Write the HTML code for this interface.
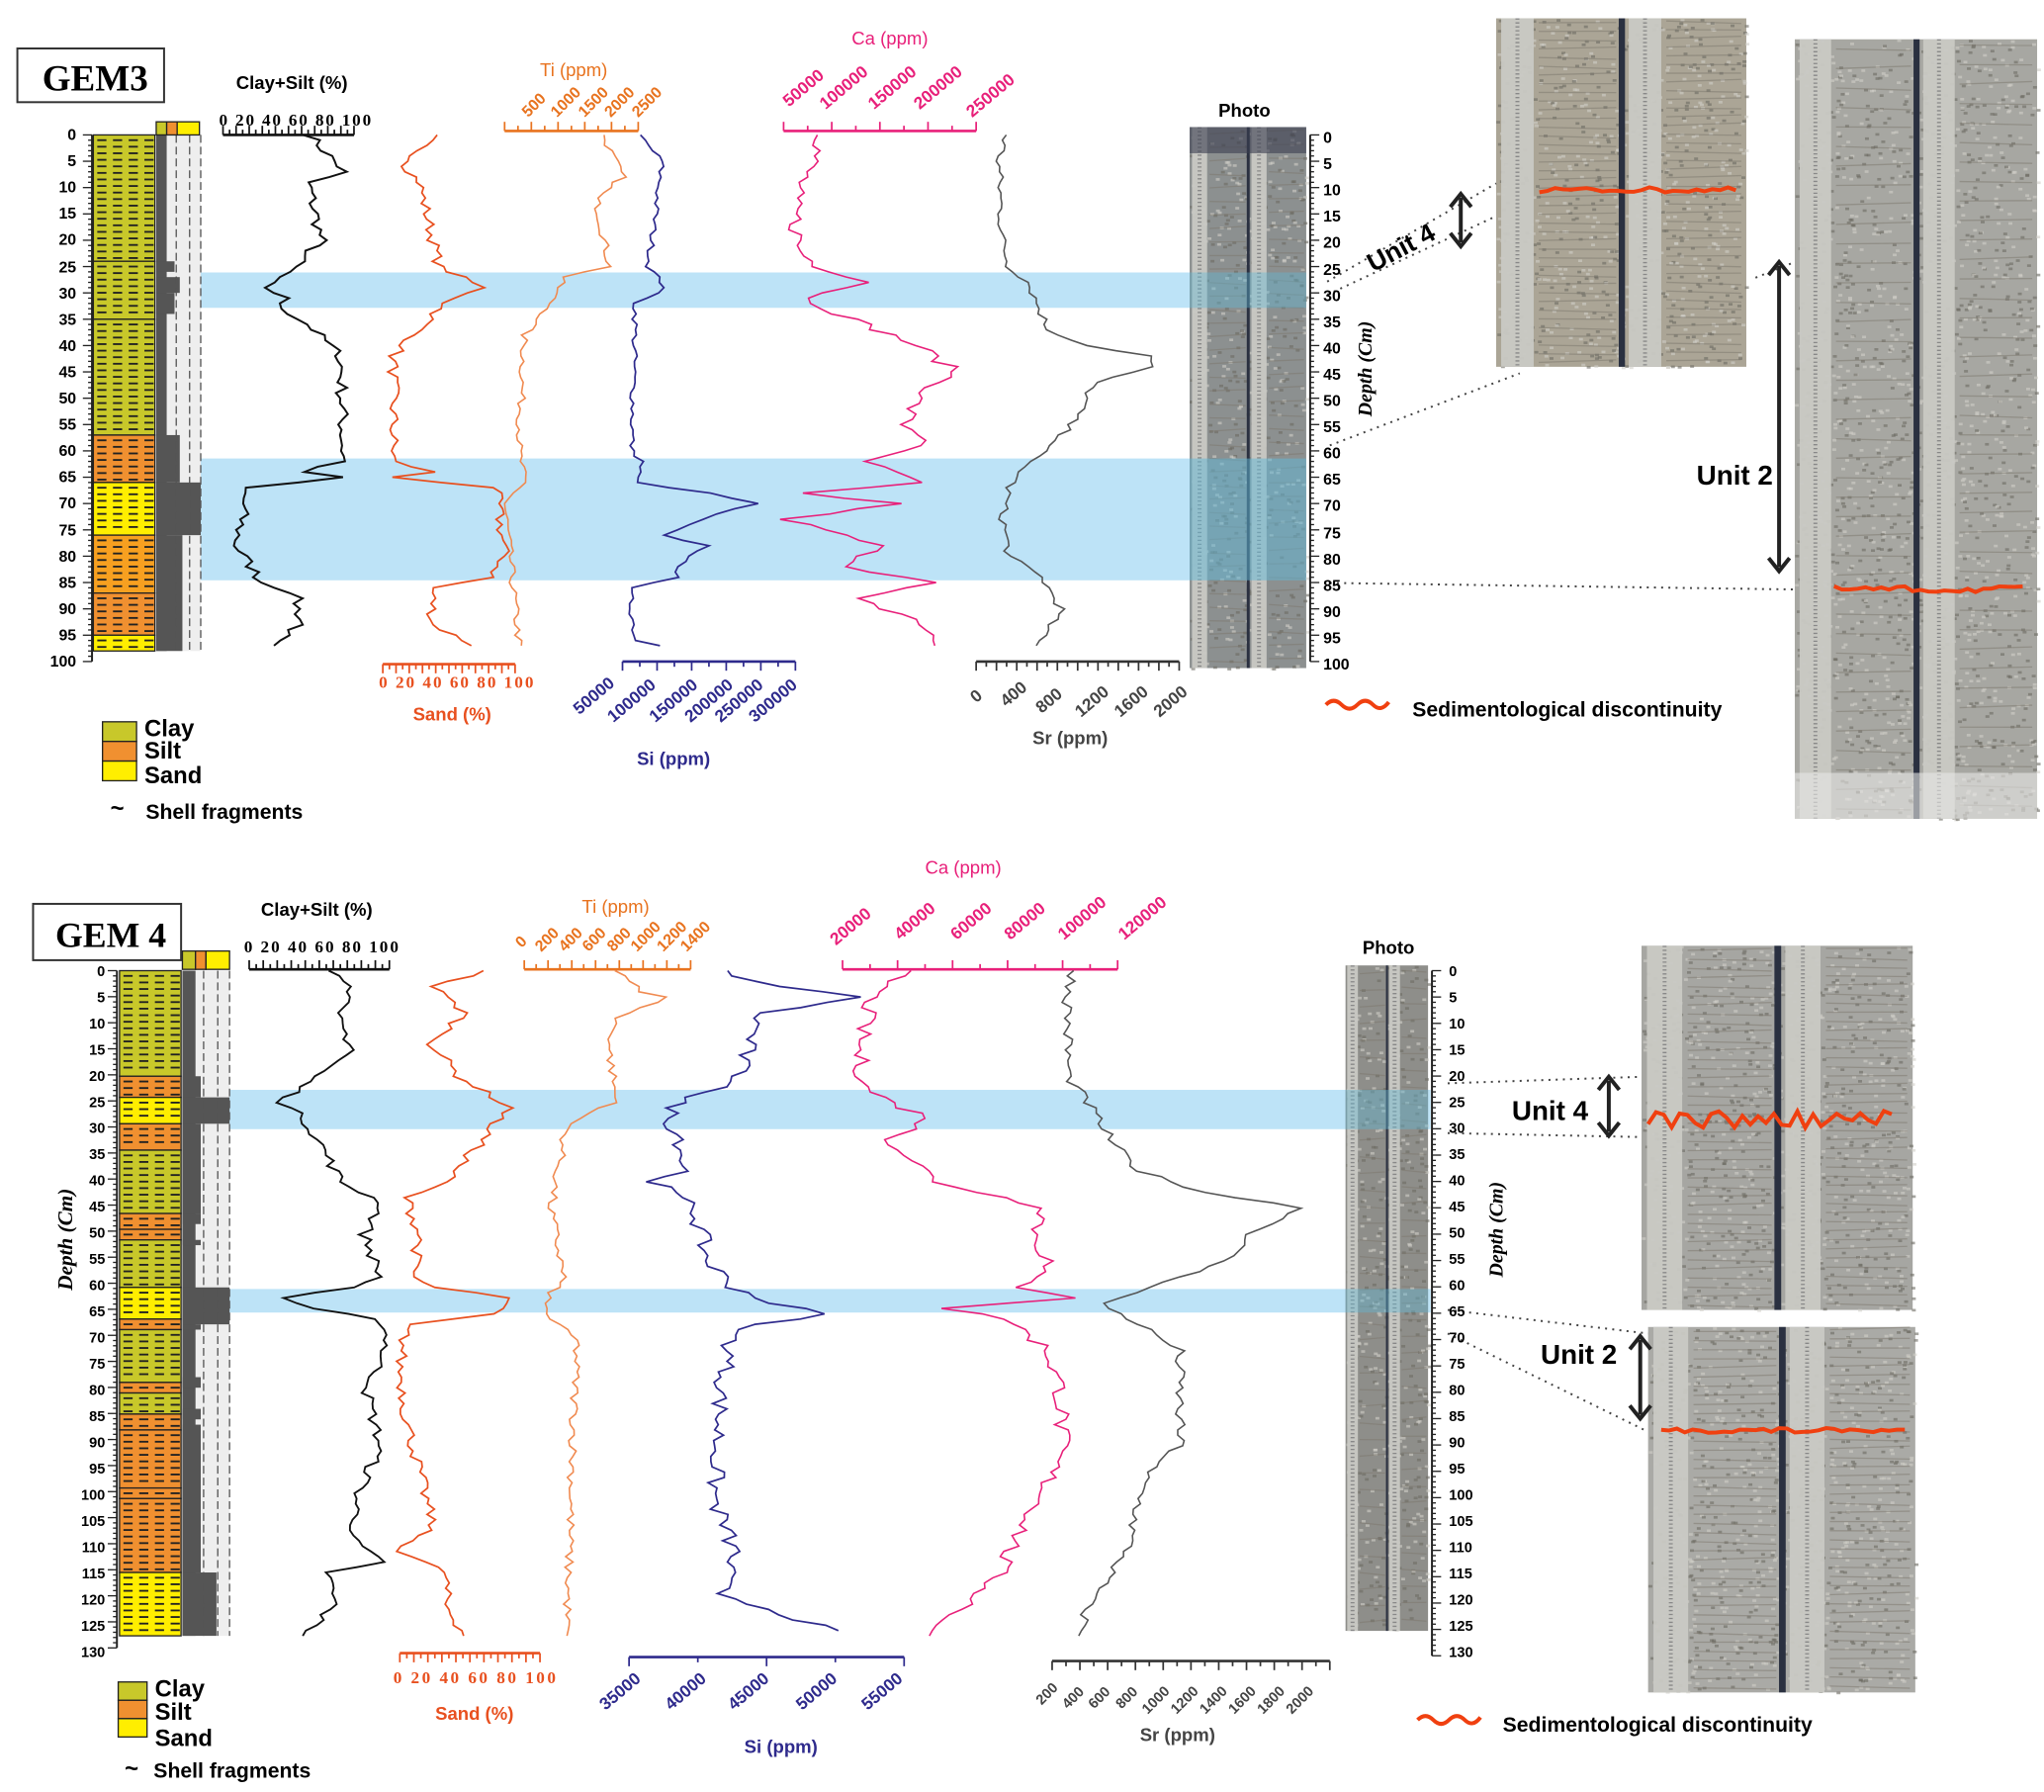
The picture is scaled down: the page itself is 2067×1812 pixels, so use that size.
<!DOCTYPE html>
<html><head><meta charset="utf-8"><style>
html,body{margin:0;padding:0;background:#fff}
svg{display:block}
text{font-family:"Liberation Sans",Arial,sans-serif}
.ser{font-family:"Liberation Serif",serif;font-weight:bold}
.b{font-weight:bold}
</style></head><body>
<svg id="s" xmlns="http://www.w3.org/2000/svg" width="2067" height="1812" viewBox="0 0 1560 1368">
<rect width="1560" height="1368" fill="#fff"/>
<rect x="152" y="208" width="843" height="27" fill="#bde3f7"/>
<rect x="152" y="350" width="843" height="93" fill="#bde3f7"/>
<rect x="174" y="832" width="918" height="30" fill="#bde3f7"/>
<rect x="174" y="984" width="918" height="18" fill="#bde3f7"/>
<g id="g"></g>

<rect x="13" y="37" width="112" height="41" fill="#fff" stroke="#333" stroke-width="1.5"/>
<text x="32" y="69" class="ser" font-size="28">GEM3</text>
<text x="180" y="68" class="b" font-size="14">Clay+Silt (%)</text>
<text x="167" y="96" class="ser" font-size="13" textLength="116" lengthAdjust="spacing">0 20 40 60 80 100</text>
<text x="412" y="58" font-size="14" fill="#e8731f">Ti (ppm)</text>
<text x="650" y="34" font-size="14" fill="#e8207a">Ca (ppm)</text>
<text x="930" y="89" class="b" font-size="14">Photo</text>
<text x="289" y="525" class="ser" font-size="13" fill="#e8501f" textLength="118" lengthAdjust="spacing">0 20 40 60 80 100</text>
<text x="315" y="550" class="b" font-size="14" fill="#e8501f">Sand (%)</text>
<text x="486" y="584" class="b" font-size="14" fill="#2e2a8c">Si (ppm)</text>
<text x="788" y="568" class="b" font-size="14" fill="#444">Sr (ppm)</text>
<text transform="translate(1047,318) rotate(-90)" class="ser" font-style="italic" font-size="15">Depth (Cm)</text>
<text x="1078" y="547" class="b" font-size="16">Sedimentological discontinuity</text>
<path d="M1012 538 q6 -6 12 0 t12 0 t12 0 t12 -2" stroke="#f04010" stroke-width="3" fill="none"/>
<text transform="translate(1048,208) rotate(-28)" class="b" font-size="20">Unit 4</text>
<text x="1295" y="370" class="b" font-size="21">Unit 2</text>

<rect x="78" y="551" width="26" height="15" fill="#c8c82a" stroke="#222"/>
<rect x="78" y="566" width="26" height="15" fill="#f09030" stroke="#222"/>
<rect x="78" y="581" width="26" height="15" fill="#ffee00" stroke="#222"/>
<text x="110" y="562" class="b" font-size="18">Clay</text>
<text x="110" y="579" class="b" font-size="18">Silt</text>
<text x="110" y="598" class="b" font-size="18">Sand</text>
<text x="84" y="623" class="b" font-size="18">~</text>
<text x="111" y="625" class="b" font-size="16">Shell fragments</text>

<rect x="25" y="690" width="113" height="43" fill="#fff" stroke="#333" stroke-width="1.5"/>
<text x="42" y="723" class="ser" font-size="27">GEM 4</text>
<text x="199" y="699" class="b" font-size="14">Clay+Silt (%)</text>
<text x="186" y="727" class="ser" font-size="13" textLength="118" lengthAdjust="spacing">0 20 40 60 80 100</text>
<text x="444" y="697" font-size="14" fill="#e8731f">Ti (ppm)</text>
<text x="706" y="667" font-size="14" fill="#e8207a">Ca (ppm)</text>
<text x="1040" y="728" class="b" font-size="14">Photo</text>
<text x="300" y="1285" class="ser" font-size="13" fill="#e8501f" textLength="124" lengthAdjust="spacing">0 20 40 60 80 100</text>
<text x="332" y="1313" class="b" font-size="14" fill="#e8501f">Sand (%)</text>
<text x="568" y="1338" class="b" font-size="14" fill="#2e2a8c">Si (ppm)</text>
<text x="870" y="1329" class="b" font-size="14" fill="#444">Sr (ppm)</text>
<text transform="translate(55,985) rotate(-90)" class="ser" font-style="italic" font-size="16">Depth (Cm)</text>
<text transform="translate(1147,975) rotate(-90)" class="ser" font-style="italic" font-size="15">Depth (Cm)</text>
<text x="1147" y="1322" class="b" font-size="16">Sedimentological discontinuity</text>
<path d="M1082 1313 q6 -6 12 0 t12 0 t12 0 t12 -2" stroke="#f04010" stroke-width="3" fill="none"/>
<text x="1154" y="855" class="b" font-size="21">Unit 4</text>
<text x="1176" y="1041" class="b" font-size="21">Unit 2</text>
<rect x="90" y="1284" width="22" height="14" fill="#c8c82a" stroke="#222"/>
<rect x="90" y="1298" width="22" height="14" fill="#f09030" stroke="#222"/>
<rect x="90" y="1312" width="22" height="14" fill="#ffee00" stroke="#222"/>
<text x="118" y="1295" class="b" font-size="18">Clay</text>
<text x="118" y="1313" class="b" font-size="18">Silt</text>
<text x="118" y="1333" class="b" font-size="18">Sand</text>
<text x="95" y="1356" class="b" font-size="18">~</text>
<text x="117" y="1357" class="b" font-size="16">Shell fragments</text>

<g font-size="12" fill="#e8731f" font-weight="bold">
<text transform="translate(403,90) rotate(-45)">500</text>
<text transform="translate(425,90) rotate(-45)">1000</text>
<text transform="translate(446,90) rotate(-45)">1500</text>
<text transform="translate(466,90) rotate(-45)">2000</text>
<text transform="translate(487,90) rotate(-45)">2500</text>
<text transform="translate(398,724) rotate(-45)">0</text>
<text transform="translate(413,727) rotate(-45)">200</text>
<text transform="translate(431,727) rotate(-45)">400</text>
<text transform="translate(449,727) rotate(-45)">600</text>
<text transform="translate(468,727) rotate(-45)">800</text>
<text transform="translate(486,727) rotate(-45)">1000</text>
<text transform="translate(506,727) rotate(-45)">1200</text>
<text transform="translate(524,727) rotate(-45)">1400</text>
</g>
<g font-size="13" fill="#e8207a" font-weight="bold">
<text transform="translate(602,82) rotate(-40)">50000</text>
<text transform="translate(630,84) rotate(-40)">100000</text>
<text transform="translate(667,84) rotate(-40)">150000</text>
<text transform="translate(702,84) rotate(-40)">200000</text>
<text transform="translate(742,90) rotate(-40)">250000</text>
<text transform="translate(638,722) rotate(-40)">20000</text>
<text transform="translate(687,718) rotate(-40)">40000</text>
<text transform="translate(730,718) rotate(-40)">60000</text>
<text transform="translate(771,718) rotate(-40)">80000</text>
<text transform="translate(812,718) rotate(-40)">100000</text>
<text transform="translate(858,718) rotate(-40)">120000</text>
</g>
<g font-size="13" fill="#2e2a8c" font-weight="bold">
<text transform="translate(442,546) rotate(-40)">50000</text>
<text transform="translate(468,552) rotate(-40)">100000</text>
<text transform="translate(500,552) rotate(-40)">150000</text>
<text transform="translate(527,552) rotate(-40)">200000</text>
<text transform="translate(550,552) rotate(-40)">250000</text>
<text transform="translate(576,552) rotate(-40)">300000</text>
<text transform="translate(462,1306) rotate(-40)">35000</text>
<text transform="translate(512,1306) rotate(-40)">40000</text>
<text transform="translate(560,1306) rotate(-40)">45000</text>
<text transform="translate(612,1306) rotate(-40)">50000</text>
<text transform="translate(662,1306) rotate(-40)">55000</text>
</g>
<g font-size="13" fill="#444" class="ser" font-weight="normal">
<text transform="translate(745,537) rotate(-40)">0</text>
<text transform="translate(768,540) rotate(-40)">400</text>
<text transform="translate(795,545) rotate(-40)">800</text>
<text transform="translate(825,548) rotate(-40)">1200</text>
<text transform="translate(855,548) rotate(-40)">1600</text>
<text transform="translate(885,548) rotate(-40)">2000</text>
</g>
<g font-size="11" fill="#444" class="ser" font-weight="normal">
<text transform="translate(795,1302) rotate(-45)">200</text>
<text transform="translate(815,1305) rotate(-45)">400</text>
<text transform="translate(835,1305) rotate(-45)">600</text>
<text transform="translate(856,1305) rotate(-45)">800</text>
<text transform="translate(876,1309) rotate(-45)">1000</text>
<text transform="translate(898,1309) rotate(-45)">1200</text>
<text transform="translate(920,1309) rotate(-45)">1400</text>
<text transform="translate(942,1309) rotate(-45)">1600</text>
<text transform="translate(964,1309) rotate(-45)">1800</text>
<text transform="translate(986,1309) rotate(-45)">2000</text>
</g>
<g font-size="12" class="ser" text-anchor="end">
<text x="58" y="107">0</text><text x="58" y="127">5</text><text x="58" y="147">10</text><text x="58" y="167">15</text><text x="58" y="187">20</text><text x="58" y="208">25</text><text x="58" y="228">30</text><text x="58" y="248">35</text><text x="58" y="268">40</text><text x="58" y="288">45</text><text x="58" y="308">50</text><text x="58" y="328">55</text><text x="58" y="348">60</text><text x="58" y="368">65</text><text x="58" y="388">70</text><text x="58" y="409">75</text><text x="58" y="429">80</text><text x="58" y="449">85</text><text x="58" y="469">90</text><text x="58" y="489">95</text><text x="58" y="509">100</text>
</g>
<g font-size="12" class="ser">
<text x="1010" y="109">0</text><text x="1010" y="129">5</text><text x="1010" y="149">10</text><text x="1010" y="169">15</text><text x="1010" y="189">20</text><text x="1010" y="210">25</text><text x="1010" y="230">30</text><text x="1010" y="250">35</text><text x="1010" y="270">40</text><text x="1010" y="290">45</text><text x="1010" y="310">50</text><text x="1010" y="330">55</text><text x="1010" y="350">60</text><text x="1010" y="370">65</text><text x="1010" y="390">70</text><text x="1010" y="411">75</text><text x="1010" y="431">80</text><text x="1010" y="451">85</text><text x="1010" y="471">90</text><text x="1010" y="491">95</text><text x="1010" y="511">100</text>
</g>
<g font-size="11" class="ser" text-anchor="end">
<text x="80" y="745">0</text><text x="80" y="765">5</text><text x="80" y="785">10</text><text x="80" y="805">15</text><text x="80" y="825">20</text><text x="80" y="845">25</text><text x="80" y="865">30</text><text x="80" y="885">35</text><text x="80" y="905">40</text><text x="80" y="925">45</text><text x="80" y="945">50</text><text x="80" y="965">55</text><text x="80" y="985">60</text><text x="80" y="1005">65</text><text x="80" y="1025">70</text><text x="80" y="1045">75</text><text x="80" y="1065">80</text><text x="80" y="1085">85</text><text x="80" y="1105">90</text><text x="80" y="1125">95</text><text x="80" y="1145">100</text><text x="80" y="1165">105</text><text x="80" y="1185">110</text><text x="80" y="1205">115</text><text x="80" y="1225">120</text><text x="80" y="1245">125</text><text x="80" y="1265">130</text>
</g>
<g font-size="11" class="ser">
<text x="1106" y="745">0</text><text x="1106" y="765">5</text><text x="1106" y="785">10</text><text x="1106" y="805">15</text><text x="1106" y="825">20</text><text x="1106" y="845">25</text><text x="1106" y="865">30</text><text x="1106" y="885">35</text><text x="1106" y="905">40</text><text x="1106" y="925">45</text><text x="1106" y="945">50</text><text x="1106" y="965">55</text><text x="1106" y="985">60</text><text x="1106" y="1005">65</text><text x="1106" y="1025">70</text><text x="1106" y="1045">75</text><text x="1106" y="1065">80</text><text x="1106" y="1085">85</text><text x="1106" y="1105">90</text><text x="1106" y="1125">95</text><text x="1106" y="1145">100</text><text x="1106" y="1165">105</text><text x="1106" y="1185">110</text><text x="1106" y="1205">115</text><text x="1106" y="1225">120</text><text x="1106" y="1245">125</text><text x="1106" y="1265">130</text>
</g>
</svg>
<script>
var NS="http://www.w3.org/2000/svg",G=document.getElementById('g');
function el(t,a){var e=document.createElementNS(NS,t);for(var k in a)e.setAttribute(k,a[k]);G.appendChild(e);return e;}
var seed=7;function rnd(){seed=(seed*16807)%2147483647;return seed/2147483647-0.5;}
function curve(kp,y0,s,noise,col,w){var pts=[];var dmax=kp[kp.length-1][0];
 for(var d=kp[0][0];d<=dmax;d+=1){var i=0;while(i<kp.length-2&&kp[i+1][0]<d)i++;var a=kp[i],b=kp[i+1];var t=(d-a[0])/(b[0]-a[0]);t=Math.max(0,Math.min(1,t));
 var x=a[1]+(b[1]-a[1])*t+rnd()*noise;pts.push(x.toFixed(1)+","+(y0+d*s).toFixed(1));}
 el('polyline',{points:pts.join(' '),fill:'none',stroke:col,'stroke-width':w||1.3});}
function hax(x1,x2,y,n,col,up){el('line',{x1:x1,y1:y,x2:x2,y2:y,stroke:col,'stroke-width':2});
 for(var i=0;i<=n;i++){var x=x1+(x2-x1)*i/n;var L=(i%2==0)?7:4;el('line',{x1:x,y1:y,x2:x,y2:up?y-L:y+L,stroke:col,'stroke-width':1.3});}}
function vax(x,y1,y2,n,left){el('line',{x1:x,y1:y1,x2:x,y2:y2,stroke:'#222','stroke-width':1.5});
 for(var i=0;i<=n;i++){var y=y1+(y2-y1)*i/n;var L=(i%5==0)?7:3;el('line',{x1:x,y1:y,x2:left?x-L:x+L,y2:y,stroke:'#222','stroke-width':1});}}
function litho(x,w,y0,s,layers){layers.forEach(function(l){var c={c:'#c8c82a',s:'#f09030',y:'#ffee00',o:'#f7a020'}[l[2]];
 var ya=y0+l[0]*s,yb=y0+l[1]*s;el('rect',{x:x,y:ya,width:w,height:yb-ya,fill:c,stroke:'#222','stroke-width':1});
 for(var yy=ya+4;yy<yb-2;yy+=5){for(var xx=x+3;xx<x+w-6;xx+=12)el('line',{x1:xx,y1:yy,x2:xx+7,y2:yy,stroke:'#222','stroke-width':1.4});}});}
function grainCol(x,y0,s,dmax,prof,w){el('rect',{x:x,y:y0,width:w,height:dmax*s,fill:'#eee'});
 prof.forEach(function(p){el('rect',{x:x,y:y0+p[0]*s,width:p[2],height:(p[1]-p[0])*s,fill:'#555'});});
 [w*0.45,w*0.75,w].forEach(function(o){el('line',{x1:x+o,y1:y0,x2:x+o,y2:y0+dmax*s,stroke:'#555','stroke-dasharray':'6,3','stroke-width':1});});}
function photo(x,y,w,h,bg){el('rect',{x:x,y:y,width:w,height:h,fill:bg});
 for(var i=0;i<h*w/60;i++){el('rect',{x:x+Math.random()*w,y:y+Math.random()*h,width:3,height:2,fill:Math.random()<0.5?'#6d6a62':'#d0cec8',opacity:0.6});}
 var rw=w*0.13;[0.02,0.53].forEach(function(f){el('rect',{x:x+w*f,y:y,width:rw,height:h,fill:'#c9c9c4',opacity:0.95});el('line',{x1:x+w*f+rw*0.5,y1:y,x2:x+w*f+rw*0.5,y2:y+h,stroke:'#888','stroke-dasharray':'1,2','stroke-width':3});});
 el('rect',{x:x+w*0.49,y:y,width:w*0.025,height:h,fill:'#2a3040'});
 for(var i=0;i<40;i++){el('line',{x1:x+w*0.17,y1:y+h*(i+0.5)/40,x2:x+w*0.48,y2:y+h*(i+0.5)/40+rnd()*4,stroke:'#7d786e','stroke-width':1,opacity:0.5});
 el('line',{x1:x+w*0.68,y1:y+h*(i+0.3)/40,x2:x+w*0.98,y2:y+h*(i+0.3)/40+rnd()*4,stroke:'#7d786e','stroke-width':1,opacity:0.5});}}
function red(x1,x2,y,amp){var p=[];for(var x=x1;x<=x2;x+=6)p.push(x+","+(y+rnd()*amp));el('polyline',{points:p.join(' '),fill:'none',stroke:'#f04010','stroke-width':3});}
function dot(x1,y1,x2,y2){el('line',{x1:x1,y1:y1,x2:x2,y2:y2,stroke:'#444','stroke-dasharray':'1.5,4','stroke-width':1.5});}
function darr(x,y1,y2){el('line',{x1:x,y1:y1+3,x2:x,y2:y2-3,stroke:'#222','stroke-width':3});
 el('polyline',{points:(x-8)+","+(y1+10)+" "+x+","+y1+" "+(x+8)+","+(y1+10),fill:'none',stroke:'#222','stroke-width':3});
 el('polyline',{points:(x-8)+","+(y2-10)+" "+x+","+y2+" "+(x+8)+","+(y2-10),fill:'none',stroke:'#222','stroke-width':3});}

var y3=103,s3=4.02;
vax(70,103,505,100,true);
litho(71,47,y3,s3,[[0,24,'c'],[24,35,'c'],[35,57,'c'],[57,66,'s'],[66,76,'y'],[76,87,'o'],[87,95,'s'],[95,98,'y']]);
grainCol(119,y3,s3,98,[[0,98,8],[24,26,14],[27,30,18],[30,34,14],[57,66,18],[66,76,34],[76,98,20]],34);
el('rect',{x:119,y:93,width:8,height:10,fill:'#c8c82a',stroke:'#222'});el('rect',{x:127,y:93,width:8,height:10,fill:'#f09030',stroke:'#222'});el('rect',{x:135,y:93,width:17,height:10,fill:'#ffee00',stroke:'#222'});
hax(170,270,103,20,'#111',true);
curve([[0,236],[5,255],[7,262],[9,235],[20,245],[26,220],[29,198],[31,222],[32,210],[36,235],[42,260],[62,262],[64,228],[65,262],[67,186],[72,185],[78,180],[85,200],[87,225],[93,230],[96,210],[97,205]],y3,s3,10,'#111',1.5);
hax(292,393,507,20,'#e8501f',false);
curve([[0,330],[6,310],[9,320],[25,335],[29,368],[32,340],[37,320],[42,300],[62,300],[64,330],[65,300],[67,378],[80,385],[84,375],[86,330],[93,330],[97,362]],y3,s3,9,'#e8501f',1.3);
hax(385,487,100,10,'#e8731f',true);
curve([[0,460],[8,475],[12,455],[25,465],[27,430],[33,418],[38,400],[60,396],[66,400],[70,385],[97,396]],y3,s3,6,'#f08a50',1.2);
hax(475,607,505,10,'#2e2a8c',false);
curve([[0,488],[5,505],[25,495],[29,508],[32,485],[60,482],[62,490],[66,485],[68,540],[70,577],[72,545],[76,505],[78,540],[82,515],[84,520],[86,480],[96,485],[97,505]],y3,s3,5,'#2e2a8c',1.3);
hax(598,745,100,8,'#e8207a',true);
curve([[0,630],[5,620],[12,605],[22,610],[25,625],[28,665],[31,615],[35,650],[40,700],[45,730],[50,700],[55,690],[58,710],[62,660],[66,700],[68,610],[70,685],[73,600],[78,670],[82,650],[85,710],[88,650],[92,700],[97,715]],y3,s3,14,'#e8207a',1.2);
hax(745,900,505,20,'#333',false);
curve([[0,768],[5,762],[20,765],[25,770],[28,785],[37,800],[40,830],[42,878],[44,878],[47,835],[52,825],[58,808],[62,785],[67,770],[72,765],[80,770],[84,795],[90,810],[97,790]],y3,s3,7,'#555',1.2);
photo(908,97,89,413,'#8c9090');
el('rect',{x:908,y:97,width:89,height:20,fill:'#3a3e50',opacity:0.6});
el('rect',{x:908,y:350,width:89,height:93,fill:'#60b8d8',opacity:0.5});
el('rect',{x:908,y:208,width:89,height:27,fill:'#60b8d8',opacity:0.4});
vax(1000,103,505,100,false);
photo(1142,14,191,266,'#aba596');
photo(1370,30,185,595,'#a7a7a2');
el('rect',{x:1370,y:590,width:185,height:35,fill:'#e8e8e6',opacity:0.6});
red(1175,1328,145,4);red(1400,1548,450,5);
dot(1013,215,1142,140);dot(1013,225,1142,165);dot(1015,340,1160,285);dot(1015,445,1370,450);dot(1340,212,1370,200);
darr(1115,148,188);darr(1358,200,436);

var y4=741,s4=4.03;
vax(89,741,1258,130,true);
litho(91,47,y4,s4,[[0,20,'c'],[20,24,'s'],[24,29,'y'],[29,34,'s'],[34,46,'c'],[46,49,'s'],[49,51,'s'],[51,60,'c'],[60,66,'y'],[66,68,'s'],[68,78,'c'],[78,80,'s'],[80,84,'c'],[84,87,'s'],[87,98,'s'],[98,100,'s'],[100,114,'s'],[114,126,'y']]);
grainCol(139,y4,s4,126,[[0,126,10],[20,24,14],[24,29,36],[29,46,14],[46,48,14],[51,52,14],[60,67,36],[67,68,14],[77,79,14],[83,85,14],[86,114,14],[114,126,26]],36);
el('rect',{x:139,y:726,width:10,height:14,fill:'#c8c82a',stroke:'#222'});el('rect',{x:149,y:726,width:8,height:14,fill:'#f09030',stroke:'#222'});el('rect',{x:157,y:726,width:18,height:14,fill:'#ffee00',stroke:'#222'});
hax(190,297,740,20,'#111',true);
curve([[0,250],[3,272],[8,255],[15,270],[20,240],[25,215],[28,232],[33,245],[40,260],[44,292],[50,278],[58,290],[60,270],[62,212],[64,235],[66,290],[70,296],[80,280],[90,290],[100,272],[108,270],[112,290],[114,250],[120,255],[126,232]],y4,s4,9,'#111',1.4);
hax(305,412,1262,20,'#e8501f',false);
curve([[0,372],[3,330],[8,355],[14,330],[20,350],[26,390],[28,380],[33,365],[40,340],[43,310],[50,320],[58,315],[60,330],[62,390],[65,375],[67,310],[75,305],[85,310],[95,320],[105,330],[110,305],[114,340],[120,340],[126,355]],y4,s4,9,'#e8501f',1.3);
hax(400,527,740,14,'#e8731f',true);
curve([[0,470],[4,490],[5,510],[9,470],[15,465],[25,470],[28,440],[30,432],[45,420],[58,430],[63,415],[66,420],[70,440],[126,432]],y4,s4,7,'#f08a50',1.2);
hax(480,690,1265,4,'#2e2a8c',false);
curve([[0,550],[3,590],[5,660],[8,580],[15,570],[22,560],[24,520],[28,510],[32,520],[38,522],[40,500],[45,530],[55,540],[60,560],[63,590],[65,628],[68,560],[80,550],[100,545],[110,560],[118,550],[122,600],[125,635]],y4,s4,14,'#2e2a8c',1.3);
hax(643,853,740,10,'#e8207a',true);
curve([[0,690],[5,665],[15,655],[22,660],[25,680],[28,710],[32,680],[40,715],[45,800],[50,790],[55,800],[60,780],[62,825],[64,720],[66,770],[72,800],[80,810],[90,810],[100,795],[110,770],[115,760],[120,740],[126,705]],y4,s4,14,'#e8207a',1.2);
hax(803,1015,1268,20,'#333',false);
curve([[0,820],[5,815],[20,815],[25,830],[33,850],[38,870],[42,920],[45,995],[50,955],[55,935],[60,880],[63,840],[67,870],[72,900],[90,900],[95,875],[110,860],[120,830],[126,825]],y4,s4,9,'#555',1.2);
photo(1027,737,63,508,'#8e8e8a');
el('rect',{x:1027,y:832,width:63,height:30,fill:'#60b8d8',opacity:0.4});el('rect',{x:1027,y:984,width:63,height:18,fill:'#60b8d8',opacity:0.4});
vax(1093,741,1264,130,false);
photo(1253,722,207,278,'#a6a6a2');
photo(1258,1013,204,279,'#aaaaa6');
red(1258,1448,855,14);red(1268,1455,1092,4);
dot(1105,827,1253,822);dot(1105,865,1253,868);dot(1105,1000,1258,1018);dot(1105,1018,1258,1093);
darr(1228,822,867);darr(1252,1020,1083);
</script>
</body></html>
